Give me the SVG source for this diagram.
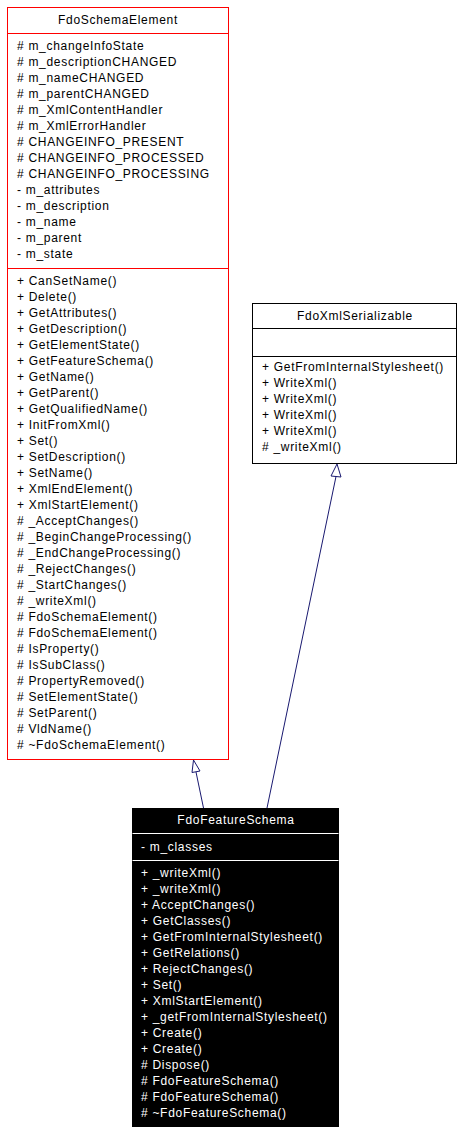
<svg xmlns="http://www.w3.org/2000/svg" width="461" height="1133" viewBox="0 0 461 1133">
<style>
text{font-family:"Liberation Sans",Arial,sans-serif;font-size:12px;letter-spacing:0.7px;fill:#000}
.t{text-anchor:middle}
.w{fill:#fff}
.red{fill:#fff;stroke:#ff0000;stroke-width:1}
.blk{fill:#fff;stroke:#000;stroke-width:1}
.dark{fill:#000;stroke:#000;stroke-width:1}
.edge{fill:none;stroke:#191970;stroke-width:1}
.head{fill:#fff;stroke:#191970;stroke-width:1}
</style>
<rect width="461" height="1133" fill="#fff"/>
<g id="FdoSchemaElement">
<rect class="red" x="7.5" y="7.5" width="221" height="752"/>
<line x1="7.5" y1="33.5" x2="228.5" y2="33.5" stroke="#ff0000"/>
<line x1="7.5" y1="268.5" x2="228.5" y2="268.5" stroke="#ff0000"/>
<text class="t" x="118" y="24">FdoSchemaElement</text>
<text x="17" y="50"># m_changeInfoState</text>
<text x="17" y="66"># m_descriptionCHANGED</text>
<text x="17" y="82"># m_nameCHANGED</text>
<text x="17" y="98"># m_parentCHANGED</text>
<text x="17" y="114"># m_XmlContentHandler</text>
<text x="17" y="130"># m_XmlErrorHandler</text>
<text x="17" y="146"># CHANGEINFO_PRESENT</text>
<text x="17" y="162"># CHANGEINFO_PROCESSED</text>
<text x="17" y="178"># CHANGEINFO_PROCESSING</text>
<text x="17" y="194">- m_attributes</text>
<text x="17" y="210">- m_description</text>
<text x="17" y="226">- m_name</text>
<text x="17" y="242">- m_parent</text>
<text x="17" y="258">- m_state</text>
<text x="17" y="285">+ CanSetName()</text>
<text x="17" y="301">+ Delete()</text>
<text x="17" y="317">+ GetAttributes()</text>
<text x="17" y="333">+ GetDescription()</text>
<text x="17" y="349">+ GetElementState()</text>
<text x="17" y="365">+ GetFeatureSchema()</text>
<text x="17" y="381">+ GetName()</text>
<text x="17" y="397">+ GetParent()</text>
<text x="17" y="413">+ GetQualifiedName()</text>
<text x="17" y="429">+ InitFromXml()</text>
<text x="17" y="445">+ Set()</text>
<text x="17" y="461">+ SetDescription()</text>
<text x="17" y="477">+ SetName()</text>
<text x="17" y="493">+ XmlEndElement()</text>
<text x="17" y="509">+ XmlStartElement()</text>
<text x="17" y="525"># _AcceptChanges()</text>
<text x="17" y="541"># _BeginChangeProcessing()</text>
<text x="17" y="557"># _EndChangeProcessing()</text>
<text x="17" y="573"># _RejectChanges()</text>
<text x="17" y="589"># _StartChanges()</text>
<text x="17" y="605"># _writeXml()</text>
<text x="17" y="621"># FdoSchemaElement()</text>
<text x="17" y="637"># FdoSchemaElement()</text>
<text x="17" y="653"># IsProperty()</text>
<text x="17" y="669"># IsSubClass()</text>
<text x="17" y="685"># PropertyRemoved()</text>
<text x="17" y="701"># SetElementState()</text>
<text x="17" y="717"># SetParent()</text>
<text x="17" y="733"># VldName()</text>
<text x="17" y="749"># ~FdoSchemaElement()</text>
</g>
<g id="FdoXmlSerializable">
<rect class="blk" x="252.5" y="303.5" width="204" height="160"/>
<line x1="252.5" y1="328.5" x2="456.5" y2="328.5" stroke="#000"/>
<line x1="252.5" y1="356.5" x2="456.5" y2="356.5" stroke="#000"/>
<text class="t" x="355" y="320">FdoXmlSerializable</text>
<text x="262" y="371">+ GetFromInternalStylesheet()</text>
<text x="262" y="387">+ WriteXml()</text>
<text x="262" y="403">+ WriteXml()</text>
<text x="262" y="419">+ WriteXml()</text>
<text x="262" y="435">+ WriteXml()</text>
<text x="262" y="451"># _writeXml()</text>
</g>
<g id="FdoFeatureSchema">
<rect class="dark" x="132.5" y="808.5" width="206" height="318"/>
<line x1="132.5" y1="833.5" x2="338.5" y2="833.5" stroke="#fff"/>
<line x1="132.5" y1="860.5" x2="338.5" y2="860.5" stroke="#fff"/>
<text class="t w" x="236" y="824">FdoFeatureSchema</text>
<text class="w" x="141" y="851">- m_classes</text>
<text class="w" x="141" y="877">+ _writeXml()</text>
<text class="w" x="141" y="893">+ _writeXml()</text>
<text class="w" x="141" y="909">+ AcceptChanges()</text>
<text class="w" x="141" y="925">+ GetClasses()</text>
<text class="w" x="141" y="941">+ GetFromInternalStylesheet()</text>
<text class="w" x="141" y="957">+ GetRelations()</text>
<text class="w" x="141" y="973">+ RejectChanges()</text>
<text class="w" x="141" y="989">+ Set()</text>
<text class="w" x="141" y="1005">+ XmlStartElement()</text>
<text class="w" x="141" y="1021">+ _getFromInternalStylesheet()</text>
<text class="w" x="141" y="1037">+ Create()</text>
<text class="w" x="141" y="1053">+ Create()</text>
<text class="w" x="141" y="1069"># Dispose()</text>
<text class="w" x="141" y="1085"># FdoFeatureSchema()</text>
<text class="w" x="141" y="1101"># FdoFeatureSchema()</text>
<text class="w" x="141" y="1117"># ~FdoFeatureSchema()</text>
</g>
<g id="connectors">
<path class="edge" d="M203.5,808 L196,772"/>
<polygon class="head" points="193.5,760 192,772.5 200,771"/>
<path class="edge" d="M267,808 L336,476.5"/>
<polygon class="head" points="337,464 331,476 341,477"/>
</g>
</svg>
